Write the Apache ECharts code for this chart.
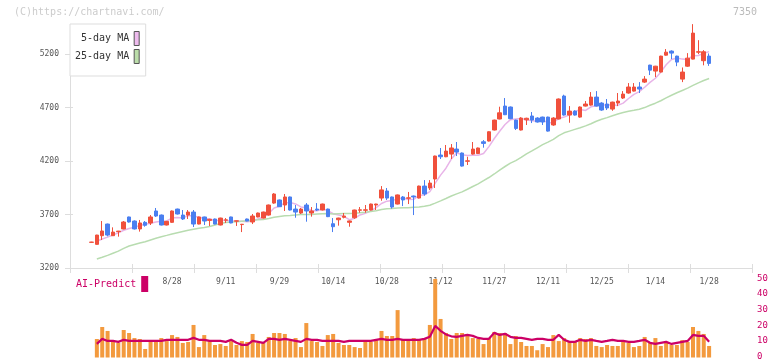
<!DOCTYPE html>
<html><head><meta charset="utf-8">
<script src="https://cdn.jsdelivr.net/npm/echarts@6/dist/echarts.min.js"></script>
<style>html,body{margin:0;padding:0;background:#fff}#c{width:772px;height:361px}</style>
</head><body><div id="c"></div>
<script>
const dates = ['8/6','8/7','8/8','8/12','8/13','8/14','8/15','8/18','8/19','8/20',
 '8/21','8/22','8/25','8/26','8/27','8/28','8/29','9/1','9/2','9/3',
 '9/4','9/5','9/8','9/9','9/10','9/11','9/12','9/16','9/17','9/18',
 '9/19','9/22','9/24','9/25','9/26','9/29','9/30','10/1','10/2','10/3',
 '10/6','10/7','10/8','10/9','10/10','10/14','10/15','10/16','10/17','10/20',
 '10/21','10/22','10/23','10/24','10/27','10/28','10/29','10/30','10/31','11/4',
 '11/5','11/6','11/7','11/10','11/11','11/12','11/13','11/14','11/17','11/18',
 '11/19','11/20','11/21','11/25','11/26','11/27','11/28','12/1','12/2','12/3',
 '12/4','12/5','12/8','12/9','12/10','12/11','12/12','12/15','12/16','12/17',
 '12/18','12/19','12/22','12/23','12/24','12/25','12/26','12/29','12/30','1/5',
 '1/6','1/7','1/8','1/9','1/13','1/14','1/15','1/16','1/19','1/20',
 '1/21','1/22','1/23','1/26','1/27','1/28'];
const opens = [3440,3421,3502,3611,3502,3540,3565,3677,3639,3565,
 3627,3621,3733,3695,3602,3627,3751,3695,3695,3723,
 3611,3677,3645,3658,3602,3647,3677,3638,3606,3658,
 3630,3677,3667,3695,3807,3836,3789,3864,3751,3714,
 3789,3714,3751,3742,3751,3614,3651,3674,3627,3670,
 3740,3740,3742,3789,3854,3920,3864,3798,3864,3852,
 3873,3854,3966,3948,4032,4256,4240,4265,4312,4275,
 4198,4265,4270,4380,4387,4490,4593,4714,4705,4583,
 4490,4585,4621,4602,4611,4611,4537,4593,4808,4630,
 4667,4611,4714,4723,4798,4742,4733,4686,4742,4789,
 4836,4854,4892,4938,5097,5041,5032,5190,5228,5181,
 4966,5087,5153,5218,5138,5181];
const closes = [3442,3508,3546,3508,3536,3545,3630,3630,3565,3621,
 3599,3677,3686,3602,3636,3733,3705,3658,3723,3611,
 3677,3639,3655,3611,3667,3650,3621,3641,3609,3639,
 3686,3714,3723,3789,3892,3773,3864,3742,3723,3751,
 3733,3733,3742,3798,3680,3586,3667,3686,3640,3742,
 3744,3744,3798,3798,3930,3854,3770,3883,3836,3856,
 3864,3966,3892,3994,4247,4240,4293,4322,4284,4153,
 4202,4312,4322,4365,4474,4583,4651,4633,4596,4505,
 4602,4600,4583,4565,4565,4480,4602,4780,4630,4667,
 4630,4705,4733,4798,4714,4677,4696,4751,4761,4826,
 4892,4892,4873,4966,5050,5087,5181,5218,5209,5125,
 5032,5162,5396,5222,5222,5113];
const lows = [3438,3418,3462,3496,3500,3493,3562,3625,3560,3540,
 3586,3602,3677,3598,3598,3622,3700,3649,3658,3583,
 3608,3602,3593,3608,3598,3621,3618,3593,3536,3636,
 3611,3674,3663,3690,3800,3770,3733,3738,3670,3705,
 3633,3680,3733,3738,3676,3536,3596,3664,3586,3660,
 3717,3717,3738,3742,3829,3836,3755,3794,3779,3798,
 3695,3850,3876,3930,3948,4219,4236,4219,4247,4148,
 4163,4260,4265,4325,4383,4486,4590,4630,4592,4490,
 4486,4537,4555,4560,4537,4475,4530,4590,4625,4558,
 4625,4605,4710,4718,4710,4670,4677,4670,4714,4780,
 4830,4850,4836,4930,5004,4985,5028,5185,5153,5087,
 4938,5080,5150,5200,5095,5090];
const highs = [3445,3510,3639,3615,3580,3547,3639,3680,3645,3649,
 3639,3695,3761,3700,3640,3738,3755,3742,3742,3742,
 3680,3680,3660,3662,3670,3667,3680,3645,3612,3662,
 3705,3718,3727,3793,3900,3840,3892,3868,3789,3761,
 3807,3770,3807,3802,3755,3667,3670,3714,3643,3745,
 3770,3789,3802,3801,3966,3948,3868,3887,3873,3911,
 3877,3970,4022,4022,4250,4322,4350,4359,4378,4280,
 4240,4378,4326,4396,4478,4587,4708,4789,4710,4587,
 4610,4605,4658,4610,4615,4615,4610,4785,4820,4714,
 4675,4710,4761,4845,4854,4750,4780,4755,4836,4854,
 4929,4929,4938,4994,5100,5090,5185,5247,5235,5185,
 5075,5209,5480,5330,5237,5206];
const ma5 = [null,3450,3471,3489,3508,3529,3553,3570,3581,3598,
 3609,3618,3630,3637,3640,3667,3672,3667,3691,3686,
 3675,3662,3661,3639,3650,3644,3641,3638,3638,3632,
 3639,3658,3674,3710,3761,3778,3808,3812,3799,3771,
 3763,3736,3736,3751,3737,3708,3695,3683,3652,3664,
 3696,3711,3734,3765,3803,3825,3830,3847,3855,3840,
 3842,3881,3883,3914,3993,4068,4133,4219,4277,4258,
 4251,4255,4255,4271,4335,4411,4479,4541,4587,4594,
 4597,4587,4577,4571,4583,4559,4559,4598,4611,4632,
 4662,4682,4673,4707,4716,4725,4724,4727,4720,4742,
 4785,4824,4849,4890,4935,4974,5031,5100,5149,5164,
 5153,5149,5185,5187,5207,5223];
const ma25 = [null,3284,3300,3318,3338,3358,3384,3406,3420,3434,
 3446,3462,3478,3493,3505,3518,3530,3541,3552,3562,
 3571,3579,3588,3602,3616,3625,3629,3633,3637,3641,
 3647,3650,3654,3663,3674,3681,3688,3690,3695,3700,
 3700,3701,3704,3707,3710,3706,3708,3709,3710,3713,
 3717,3722,3728,3735,3747,3754,3756,3762,3764,3763,
 3767,3771,3777,3787,3807,3828,3850,3873,3893,3912,
 3936,3962,3987,4016,4046,4079,4116,4149,4181,4204,
 4234,4267,4295,4324,4353,4377,4403,4438,4464,4480,
 4496,4512,4529,4549,4572,4591,4606,4623,4639,4653,
 4666,4675,4685,4700,4722,4741,4764,4790,4815,4838,
 4860,4882,4907,4931,4953,4972];
const volume = [null,11.7,19.3,16.8,10.4,9.2,17.4,15.5,12.3,11.7,
 5.4,10.4,10.4,12.3,10.4,14.2,13,9.2,9.8,20.6,
 6.6,14.2,10.4,7.9,8.5,7.3,10.4,7.9,10.4,9.8,
 14.9,9.2,9.2,13,15.5,15.5,14.9,10.4,12.3,6.6,
 21.8,10.4,9.8,7.3,14.2,14.9,9.2,7.9,7.9,6.6,
 6,9.8,9.8,11,16.8,13.6,13.6,30,11.7,11,
 12.3,11.7,12,20.6,49.7,24.4,15.5,11.7,15.5,15.5,
 13.6,12.3,11.7,8.5,12.3,16.2,15.5,15.5,8.5,13.6,
 9.8,7.3,7.3,4.6,8.5,6.6,14.2,10.4,12.3,9.8,
 9.8,12.3,11.7,12.3,7.3,6.6,7.9,7.3,7.3,10.4,
 9.2,6.6,7.3,13,9.2,12.3,7.3,9.2,7.9,7.9,
 11,9.8,19.3,16.8,14.9,7.3];
const aiPredict = [null,8.6,11.8,10.5,10.5,9.9,11.2,10.5,10.5,10.5,
 10.5,10.5,10.5,10.5,11.2,11.2,11.2,11.2,11.2,12.4,
 11.2,11.2,10.5,10.5,10.5,9.9,11.2,9.3,8.0,8.0,
 10.5,9.9,9.3,11.8,11.8,11.2,11.8,11.2,10.5,9.9,
 11.8,11.2,11.2,10.5,10.5,10.5,10.5,9.9,10.5,10.5,
 10.5,10.5,10.5,11.2,11.8,11.2,11.2,11.8,11.2,11.2,
 11.2,11.2,11.8,13.1,20.0,16.9,14.6,13.4,13.1,13.7,
 14.3,13.7,12.4,11.8,11.8,15.6,14.3,15.0,13.1,12.4,
 12.4,11.8,11.2,11.8,11.8,11.2,11.2,14.3,11.2,9.9,
 9.9,11.2,10.5,11.2,10.5,9.9,10.5,11.2,10.5,10.5,
 9.9,9.9,10.5,11.2,9.3,8.6,9.3,9.9,8.6,9.3,
 9.9,10.5,14.3,13.7,13.7,9.9];
const priceTicks = [3200, 3700, 4200, 4700, 5200];
const priceMin = 3200, priceMax = 5500;
const volMin = 0, volMax = 50, volStep = 10;
const code = '7350';
const credit = '(C)https://chartnavi.com/';

const FONT = 'DejaVu Sans Mono';
const RED = '#f0503c', BLUE = '#4a7ff0';
const candles = dates.map((d, i) => [opens[i], closes[i], lows[i], highs[i]]);
const chart = echarts.init(document.getElementById('c'), null, {renderer: 'canvas'});
const PL = 88.8, PW = 623;
const frameTop = 26, frameBottom = 268;
const pxPerUnit = 246 / (priceMax - priceMin);
const frameMax = priceMin + (frameBottom - frameTop) / pxPerUnit;
chart.setOption({
  animation: false,
  backgroundColor: '#fff',
  graphic: [
    {type: 'text', left: 14, top: 7, style: {text: credit, fill: '#cccccc', font: '10px "' + FONT + '"'}},
    {type: 'text', right: 15, top: 7, style: {text: code, fill: '#bbbbbb', font: '10px "' + FONT + '"'}}
  ],
  legend: [
    {data: [
      {name: '5-day MA', itemStyle: {color: '#eebbee', borderColor: '#555', borderWidth: 1}},
      {name: '25-day MA', itemStyle: {color: '#bbddaa', borderColor: '#555', borderWidth: 1}}],
     orient: 'vertical', left: 70, top: 24, align: 'right', icon: 'rect',
     itemWidth: 5, itemHeight: 14, itemGap: 3, padding: [7, 6, 12, 5],
     backgroundColor: '#fff', borderColor: '#dddddd', borderWidth: 1, selectedMode: false,
     textStyle: {fontFamily: FONT, fontSize: 10, color: '#333'}},
    {data: [{name: 'AI-Predict', itemStyle: {color: '#cc0066'}}],
     left: 72, top: 276, align: 'right', icon: 'rect', itemWidth: 7, itemHeight: 16,
     padding: [0, 4, 0, 4], selectedMode: false,
     textStyle: {fontFamily: FONT, fontSize: 10, color: '#cc0066'}}
  ],
  grid: [
    {left: PL, width: PW, top: 22, height: 246},
    {left: PL, width: PW, top: 278.5, height: 79},
    {left: 70, width: 682, top: frameTop, height: frameBottom - frameTop},
    {left: 70, width: 682, top: 278.5, height: 79}
  ],
  xAxis: [
    {type: 'category', gridIndex: 0, data: dates, boundaryGap: true,
     axisLine: {show: false}, axisTick: {show: false}, splitLine: {show: false},
     axisLabel: {interval: (idx) => idx >= 15 && (idx - 15) % 10 === 0,
       fontFamily: FONT, fontSize: 8, color: '#555', margin: 10}},
    {type: 'category', gridIndex: 1, data: dates, boundaryGap: true, show: false},
    {type: 'value', gridIndex: 2, min: 0, max: 682, interval: 62, position: 'bottom',
     axisLine: {lineStyle: {color: '#dddddd'}}, axisTick: {length: 5, lineStyle: {color: '#dddddd'}},
     axisLabel: {show: false}, splitLine: {show: false}},
    {type: 'value', gridIndex: 2, min: 0, max: 682, interval: 62, position: 'bottom', offset: 0,
     axisLine: {show: false}, axisTick: {inside: true, length: 4, lineStyle: {color: '#dddddd'}},
     axisLabel: {show: false}, splitLine: {show: false}},
    {type: 'value', gridIndex: 3, min: 0, max: 1, show: false}
  ],
  yAxis: [
    {type: 'value', gridIndex: 0, min: priceMin, max: priceMax, show: false, splitLine: {show: false}},
    {type: 'value', gridIndex: 1, min: volMin, max: volMax, show: false, splitLine: {show: false}},
    {type: 'value', gridIndex: 2, min: priceMin, max: frameMax, position: 'left',
     axisLine: {show: true, lineStyle: {color: '#dddddd'}},
     axisTick: {show: true, length: 5, customValues: priceTicks, lineStyle: {color: '#dddddd'}},
     axisLabel: {fontFamily: FONT, fontSize: 8, color: '#555', margin: 11, customValues: priceTicks,
       formatter: (v) => String(Math.round(v))},
     splitLine: {show: false}},
    {type: 'value', gridIndex: 2, min: priceMin, max: frameMax, position: 'left', offset: 0,
     axisLine: {show: false},
     axisTick: {show: true, inside: true, length: 3, customValues: priceTicks, lineStyle: {color: '#dddddd'}},
     axisLabel: {show: false}, splitLine: {show: false}},
    {type: 'value', gridIndex: 3, min: volMin, max: volMax, interval: volStep, position: 'right',
     axisLine: {show: false}, axisTick: {show: false}, splitLine: {show: false},
     axisLabel: {fontFamily: FONT, fontSize: 9, color: '#cc0066', margin: 5}}
  ],
  series: [
    {name: '5-day MA', type: 'line', xAxisIndex: 0, yAxisIndex: 0, data: ma5, symbol: 'none', z: 1,
     lineStyle: {color: '#e8b4e8', width: 1.5}, itemStyle: {color: '#eebbee'}},
    {name: '25-day MA', type: 'line', xAxisIndex: 0, yAxisIndex: 0, data: ma25, symbol: 'none', z: 1,
     lineStyle: {color: '#b8dcb0', width: 1.5}, itemStyle: {color: '#bbddaa'}},
    {name: 'Price', type: 'candlestick', xAxisIndex: 0, yAxisIndex: 0, data: candles, barWidth: 4, z: 3,
     itemStyle: {color: RED, color0: BLUE, borderColor: RED, borderColor0: BLUE, borderWidth: 1}},
    {name: 'Volume', type: 'bar', xAxisIndex: 1, yAxisIndex: 1, data: volume, barWidth: 4, z: 2,
     itemStyle: {color: '#f39a3e'}},
    {name: 'AI-Predict', type: 'line', xAxisIndex: 1, yAxisIndex: 1, data: aiPredict, symbol: 'none', z: 4,
     lineStyle: {color: '#cc0066', width: 2.2}, itemStyle: {color: '#cc0066'}}
  ]
});
</script></body></html>
